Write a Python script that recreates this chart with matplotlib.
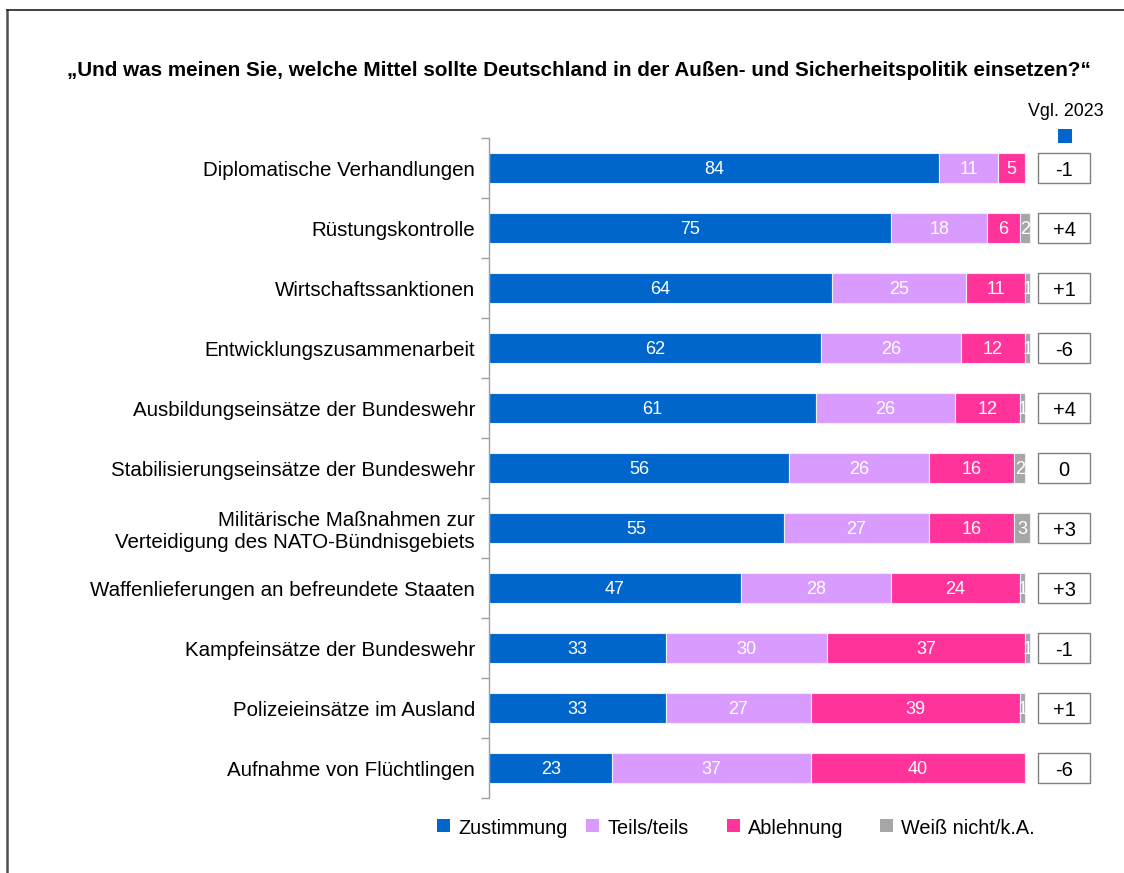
import matplotlib.pyplot as plt
from matplotlib.patches import Rectangle
from matplotlib.lines import Line2D
from matplotlib.transforms import blended_transform_factory

plt.rcParams['font.family'] = ['Liberation Sans', 'DejaVu Sans']

categories = [
    'Diplomatische Verhandlungen',
    'Rüstungskontrolle',
    'Wirtschaftssanktionen',
    'Entwicklungszusammenarbeit',
    'Ausbildungseinsätze der Bundeswehr',
    'Stabilisierungseinsätze der Bundeswehr',
    'Militärische Maßnahmen zur\nVerteidigung des NATO-Bündnisgebiets',
    'Waffenlieferungen an befreundete Staaten',
    'Kampfeinsätze der Bundeswehr',
    'Polizeieinsätze im Ausland',
    'Aufnahme von Flüchtlingen',
]
zustimmung = [84, 75, 64, 62, 61, 56, 55, 47, 33, 33, 23]
teils = [11, 18, 25, 26, 26, 26, 27, 28, 30, 27, 37]
ablehnung = [5, 6, 11, 12, 12, 16, 16, 24, 37, 39, 40]
weiss_nicht = [0, 2, 1, 1, 1, 2, 3, 1, 1, 1, 0]
vgl_2023 = ['-1', '+4', '+1', '-6', '+4', '0', '+3', '+3', '-1', '+1', '-6']

series = [
    ('Zustimmung', zustimmung, '#0066CC'),
    ('Teils/teils', teils, '#DA9BFF'),
    ('Ablehnung', ablehnung, '#FF3399'),
    ('Weiß nicht/k.A.', weiss_nicht, '#A6A6A6'),
]

W, H = 1124, 873
fig = plt.figure(figsize=(W / 100, H / 100), dpi=100)
ax = fig.add_axes([489 / W, 1 - 798 / H, 536 / W, 660 / H])

y = list(range(len(categories)))
left = [0] * len(categories)
for name, vals, color in series:
    bars = ax.barh(y, vals, left=left, height=0.49, color=color,
                   edgecolor='#EEEEF6', linewidth=0.8, label=name, clip_on=False)
    for bar, v in zip(bars, vals):
        if v <= 0:
            continue
        t = ax.text(bar.get_x() + bar.get_width() / 2, bar.get_y() + bar.get_height() / 2,
                    str(v), ha='center', va='center_baseline', color='white', fontsize=13)
        t.set_clip_path(bar)
    left = [l + v for l, v in zip(left, vals)]

ax.set_xlim(0, 100)
ax.set_ylim(len(categories) - 0.5, -0.5)
ax.set_yticks(y)
ax.set_yticklabels(categories, fontsize=14.8)
ax.set_yticks([i - 0.5 for i in range(len(categories) + 1)], minor=True)
ax.tick_params(axis='y', which='major', length=0, pad=10)
ax.tick_params(axis='y', which='minor', length=6, color='#A0A0A0', width=1)
ax.set_xticks([])
for side in ['top', 'right', 'bottom']:
    ax.spines[side].set_visible(False)
ax.spines['left'].set_color('#A0A0A0')
ax.spines['left'].set_linewidth(1)

# Vergleichswerte 2023 rechts in Kästchen
trans = blended_transform_factory(fig.transFigure, ax.transData)
bx0, bw = 1038 / W, 52 / W
for yi, txt in zip(y, vgl_2023):
    ax.add_patch(Rectangle((bx0, yi - 0.25), bw, 0.5, transform=trans, clip_on=False,
                           facecolor='white', edgecolor='#808080', linewidth=1))
    ax.text(bx0 + bw / 2, yi, txt, transform=trans, ha='center', va='center_baseline',
            fontsize=14.5, color='black')

fig.text(1066 / W, 1 - 112 / H, 'Vgl. 2023', ha='center', va='center', fontsize=12.9)
fig.patches.append(Rectangle((1058 / W, 1 - 143 / H), 14 / W, 14 / H,
                             transform=fig.transFigure, facecolor='#0066CC', edgecolor='none'))

fig.text(579 / W, 1 - 71 / H,
         '„Und was meinen Sie, welche Mittel sollte Deutschland in der Außen- und Sicherheitspolitik einsetzen?“',
         ha='center', va='center', fontsize=14.9, fontweight='bold')

# Legende
legend_x = [437, 586, 727, 880]
for x0, (name, _, color) in zip(legend_x, series):
    fig.patches.append(Rectangle((x0 / W, 1 - 832 / H), 13 / W, 13 / H,
                                 transform=fig.transFigure, facecolor=color, edgecolor='none'))
    fig.text((x0 + 21) / W, 1 - 826 / H, name, ha='left', va='center_baseline', fontsize=14.3)

# Rahmen
fig.add_artist(Line2D([7 / W, 7 / W], [0, 1 - 10 / H], transform=fig.transFigure,
                      color='#505050', linewidth=1.8))
fig.add_artist(Line2D([7 / W, 1], [1 - 10 / H, 1 - 10 / H], transform=fig.transFigure,
                      color='#202020', linewidth=1.2))

fig.savefig('out.png', dpi=100)
